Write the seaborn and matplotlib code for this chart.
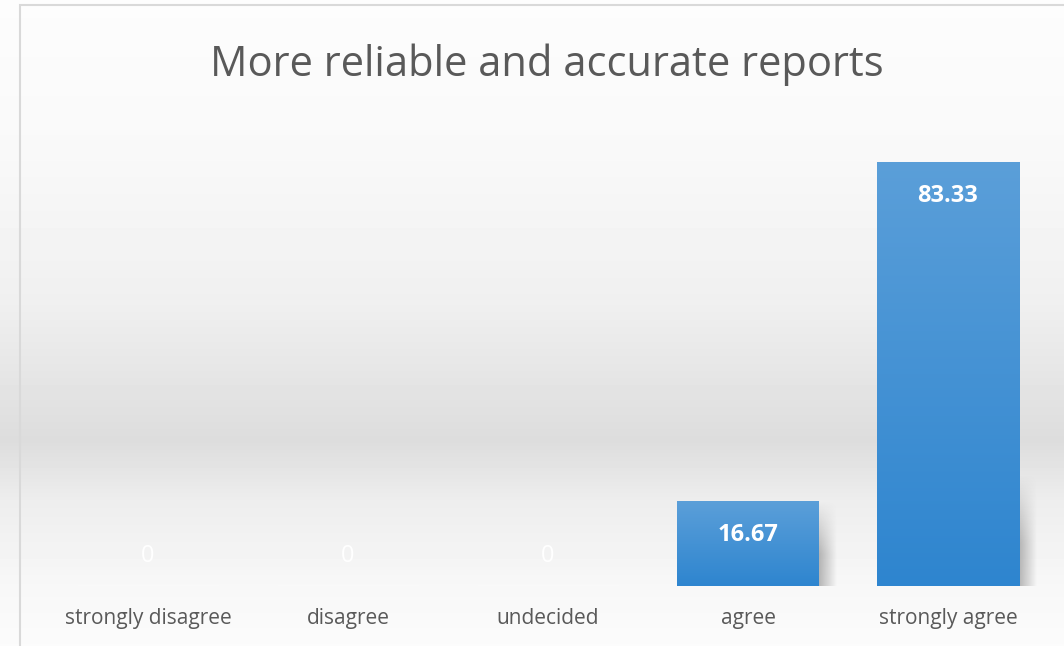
# plot_reliable_reports.py

import pandas as pd
import matplotlib.pyplot as plt
import matplotlib.patches as mpatches
from matplotlib.colors import LinearSegmentedColormap
import seaborn as sns
import numpy as np

# Excel-like look
sns.set(style="white")
plt.rcParams['font.family'] = ['Open Sans', 'DejaVu Sans']

# survey answers (percent)
df = pd.DataFrame({
    "Answer": ["strongly disagree", "disagree", "undecided", "agree", "strongly agree"],
    "Percent": [0, 0, 0, 16.67, 83.33],
})

### 1. Figure with a soft grey band in the background
fig = plt.figure(figsize=(10.64, 6.46), dpi=100)
bg = fig.add_axes([0, 0, 1, 1], zorder=-2)
px = np.array([0, 150, 300, 440, 500, 586, 646])      # pixel rows from top
shade = np.array([0.99, 0.975, 0.94, 0.865, 0.93, 0.97, 0.985])
col = np.interp(np.arange(646), px, shade)
bg.imshow(np.repeat(col[:, None], 2, axis=1), cmap="gray", vmin=0, vmax=1,
          aspect="auto", extent=[0, 1, 0, 1])
bg.add_patch(mpatches.Rectangle((20 / 1064, -0.1), 1.2, (646 - 5) / 646 + 0.1,
                                fill=False, edgecolor="#d9d9d9", lw=1.5))
bg.set_xlim(0, 1)
bg.set_ylim(0, 1)
bg.axis("off")

### 2. Bar chart
ax = fig.add_axes([48 / 1064, 60 / 646, 1000 / 1064, 458 / 646])
ax.patch.set_alpha(0)
sns.barplot(data=df, x="Answer", y="Percent", color="#4a93d6", width=0.71, ax=ax)
ax.set_ylim(0, 90)
ax.set_xlim(-0.5, 4.5)

# gradient fill inside each bar plus a small soft shadow
blues = LinearSegmentedColormap.from_list("bar", ["#2e85cf", "#5b9fd9"])
grad = np.linspace(0, 1, 256)[:, None]
for bar in ax.patches:
    x0, y0 = bar.get_x(), bar.get_y()
    w, h = bar.get_width(), bar.get_height()
    if h <= 0:
        continue
    sh = min(h, 22)
    shadow = np.zeros((64, 64, 4))
    shadow[..., :3] = 0.5
    fade_x = np.linspace(0.55, 0, 64)[None, :]
    fade_y = np.clip(np.linspace(1.6, 0, 64), 0, 1)[:, None]  # soft top edge
    shadow[..., 3] = fade_x * fade_y
    ax.imshow(shadow, extent=[x0 + w, x0 + w + 0.09, 0, sh], aspect="auto",
              origin="lower", zorder=1)
    im = ax.imshow(grad, cmap=blues, extent=[x0, x0 + w, y0, y0 + h],
                   aspect="auto", origin="lower", zorder=2)
    im.set_clip_path(bar)
    bar.set_edgecolor("none")

# data labels
for i, v in enumerate(df["Percent"]):
    label = f"{v:.2f}" if v > 0 else "0"
    ypos = v - 6.6 if v > 0 else 5.9
    ax.text(i, ypos, label, ha="center", va="center", color="white",
            fontsize=17, fontweight="bold" if v > 0 else "normal", zorder=3)

ax.set_xlabel("")
ax.set_ylabel("")
ax.set_yticks([])
ax.tick_params(axis="x", labelsize=15, colors="#595959", pad=16, length=0)
for s in ax.spines.values():
    s.set_visible(False)

fig.text(547 / 1064, 1 - 65 / 646, "More reliable and accurate reports",
         ha="center", va="center", fontsize=30, color="#595959")

plt.savefig("out.png", dpi=100)
plt.close()
